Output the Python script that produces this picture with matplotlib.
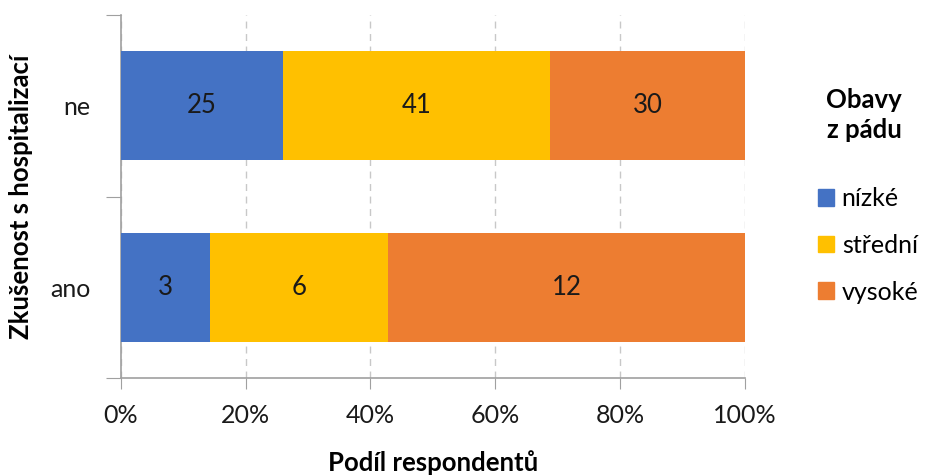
import matplotlib
matplotlib.use("Agg")
from matplotlib import pyplot as plt
from matplotlib.patches import Patch

plt.rcParams['font.family'] = ['Lato', 'DejaVu Sans']

# data
kategorie = ['ano', 'ne']            # bottom to top
nizke = [3, 25]
stredni = [6, 41]
vysoke = [12, 30]
serie_nazvy = ['nízké', 'střední', 'vysoké']
barvy = ['#4472C4', '#FFC000', '#ED7D31']

fig = plt.figure(figsize=(9.29, 4.75), dpi=100)
ax = fig.add_axes([0.130, 0.204, 0.672, 0.764])

serie = [nizke, stredni, vysoke]
soucty = [sum(v) for v in zip(*serie)]
y = list(range(len(kategorie)))
leve = [0.0] * len(kategorie)
for hodnoty, barva in zip(serie, barvy):
    podily = [h / s for h, s in zip(hodnoty, soucty)]
    ax.barh(y, podily, left=leve, height=0.6, color=barva, zorder=3)
    for yi, l, p, h in zip(y, leve, podily, hodnoty):
        ax.text(l + p / 2, yi, str(h), ha='center', va='center', fontsize=18.5, color='#1a1a1a', zorder=4)
    leve = [l + p for l, p in zip(leve, podily)]

ax.set_xlim(0, 1)
ax.set_ylim(-0.5, len(kategorie) - 0.5)

ax.set_xticks([0, 0.2, 0.4, 0.6, 0.8, 1.0])
ax.set_xticklabels(['0%', '20%', '40%', '60%', '80%', '100%'], fontsize=18, color='#1a1a1a')
ax.set_yticks([-0.5, 0.5, 1.5])
ax.set_yticklabels([])
ax.set_yticks(y, minor=True)
ax.set_yticklabels(kategorie, minor=True, fontsize=18, color='#1a1a1a')
ax.tick_params(axis='y', which='minor', length=0, pad=22)
ax.tick_params(axis='y', which='major', length=11, color='#a0a0a0')
ax.tick_params(axis='x', length=8, color='#a0a0a0', pad=11)

ax.grid(axis='x', linestyle=(0, (5, 4)), color='#c8c8c8', linewidth=1, zorder=0)
for s in ['top', 'right']:
    ax.spines[s].set_visible(False)
for s in ['left', 'bottom']:
    ax.spines[s].set_color('#a0a0a0')
    ax.spines[s].set_linewidth(1.2)

ax.set_xlabel('Podíl respondentů', fontsize=18.5, fontweight='bold', labelpad=16)
ax.set_ylabel('Zkušenost s hospitalizací', fontsize=18.5, fontweight='bold', labelpad=12)

# legenda: titulek zvlast, polozky pod nim
fig.text(864 / 929, 1 - 115 / 475, 'Obavy\nz pádu', ha='center', va='center',
         fontsize=18.5, fontweight='bold', linespacing=1.35)
handles = [Patch(color=b, label=n) for b, n in zip(barvy, serie_nazvy)]
fig.legend(handles=handles, loc='upper left', bbox_to_anchor=(818 / 929, 1 - 187 / 475),
           frameon=False, fontsize=18, borderpad=0, borderaxespad=0,
           handlelength=0.65, handleheight=0.65, handletextpad=0.3,
           labelspacing=0.95)

fig.savefig('out.png', dpi=100)
